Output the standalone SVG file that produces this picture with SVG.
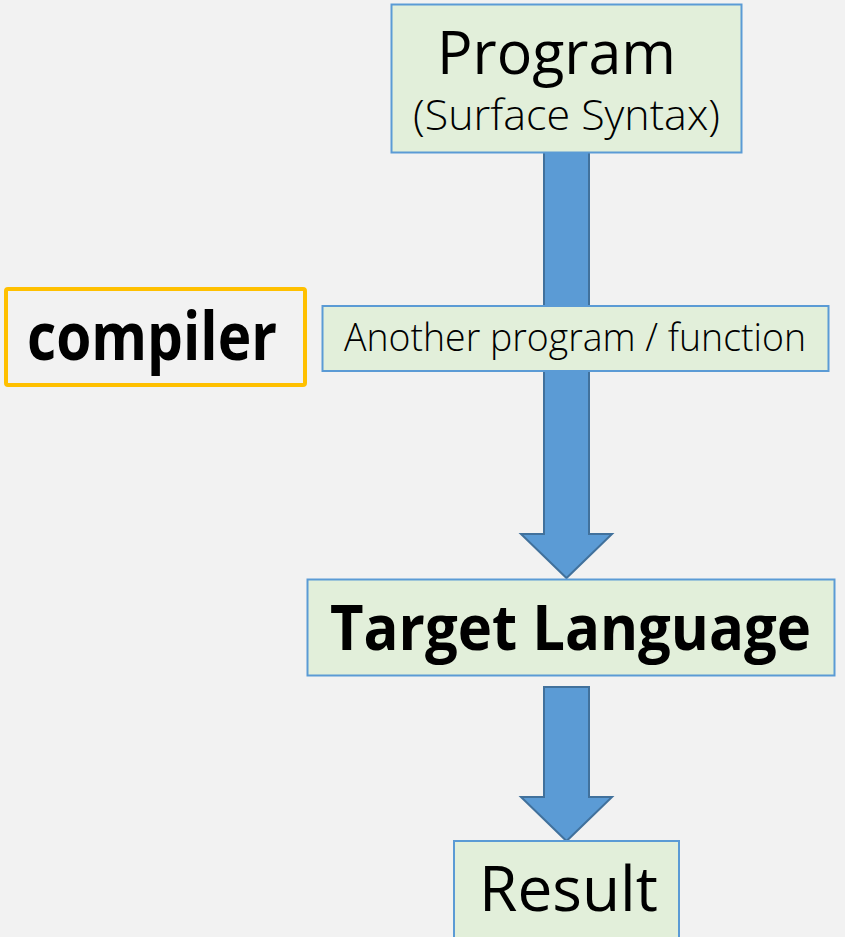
<svg xmlns="http://www.w3.org/2000/svg" width="845" height="937" viewBox="0 0 845 937">
  <style>
    .box { fill: #E2EFDA; stroke: #5B9BD5; stroke-width: 2; }
    .flow { fill: #5B9BD5; stroke: #41719C; stroke-width: 2; stroke-linejoin: miter; }
    .t { font-family: "Open Sans", "Noto Sans", "DejaVu Sans", sans-serif; fill: #000; }
    .bold { font-weight: 700; }
    .light { font-weight: 300; }
  </style>
  <rect x="0" y="0" width="845" height="937" fill="#F2F2F2"/>

  <!-- block arrows -->
  <g id="connectors">
    <polygon class="flow" points="544,150 589,150 589,534 612,534 566.5,578 521,534 544,534"/>
    <polygon class="flow" points="544,687 589,687 589,797 612,797 566.5,841 521,797 544,797"/>
  </g>

  <g id="program">
    <rect class="box" x="391.5" y="4.5" width="350" height="148"/>
    <text class="t" x="437" y="74" font-size="61" textLength="239" lengthAdjust="spacingAndGlyphs">Program</text>
    <text class="t light" x="413" y="130" font-size="42" textLength="307" lengthAdjust="spacingAndGlyphs">(Surface Syntax)</text>
  </g>

  <g id="compiler">
    <rect x="6" y="289" width="299" height="96" fill="none" stroke="#FFC000" stroke-width="4" rx="2"/>
    <text class="t bold" x="27" y="360" font-size="66" textLength="250" lengthAdjust="spacingAndGlyphs">compiler</text>
  </g>

  <g id="function">
    <rect class="box" x="322.5" y="306" width="506" height="65"/>
    <text class="t light" x="344" y="351" font-size="38" textLength="462" lengthAdjust="spacingAndGlyphs">Another program / function</text>
  </g>

  <g id="target">
    <rect class="box" x="307.5" y="579.5" width="527" height="96"/>
    <text class="t bold" x="330" y="650" font-size="62" textLength="481" lengthAdjust="spacingAndGlyphs">Target Language</text>
  </g>

  <g id="result">
    <rect class="box" x="454" y="841" width="225" height="100"/>
    <text class="t" x="479" y="911" font-size="63" textLength="179" lengthAdjust="spacingAndGlyphs">Result</text>
  </g>
</svg>
